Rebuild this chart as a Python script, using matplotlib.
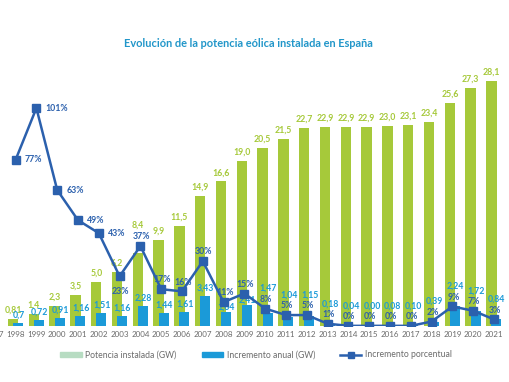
import numpy as np
import matplotlib.pyplot as plt
from matplotlib.lines import Line2D
from matplotlib.patches import Patch

plt.rcParams['font.family'] = ['Lato', 'DejaVu Sans']

years = np.arange(1998, 2022)
potencia = [0.81, 1.4, 2.3, 3.5, 5.0, 6.2, 8.4, 9.9, 11.5, 14.9, 16.6, 19.0,
            20.5, 21.5, 22.7, 22.9, 22.9, 22.9, 23.0, 23.1, 23.4, 25.6, 27.3, 28.1]
potencia_lbl = ['0,81', '1,4', '2,3', '3,5', '5,0', '6,2', '8,4', '9,9', '11,5',
                '14,9', '16,6', '19,0', '20,5', '21,5', '22,7', '22,9', '22,9',
                '22,9', '23,0', '23,1', '23,4', '25,6', '27,3', '28,1']
incremento = [0.3, 0.72, 0.91, 1.16, 1.51, 1.16, 2.28, 1.44, 1.61, 3.43, 1.64, 2.41,
              1.47, 1.04, 1.15, 0.18, 0.04, 0.00, 0.08, 0.10, 0.39, 2.24, 1.72, 0.84]
incremento_lbl = ['0,7', '0,72', '0,91', '1,16', '1,51', '1,16', '2,28', '1,44',
                  '1,61', '3,43', '1,64', '2,41', '1,47', '1,04', '1,15', '0,18',
                  '0,04', '0,00', '0,08', '0,10', '0,39', '2,24', '1,72', '0,84']
porcentaje = [77, 101, 63, 49, 43, 23, 37, 17, 16, 30, 11, 15, 8, 5, 5, 1,
              0, 0, 0, 0, 2, 9, 7, 3]

green = '#a6c93a'
blue = '#1b9ad8'
dblue = '#2b60ad'
grey = '#6b6b6b'

fig = plt.figure(figsize=(5.1, 3.82), dpi=100)
ax = fig.add_axes([-0.0306, 0.147, 1.0196, 0.683])
ax2 = ax.twinx()

ax.bar(years - 0.12, potencia, width=0.5, color=green, zorder=2)
ax.bar(years + 0.12, incremento, width=0.48, color=blue, zorder=3)
for x, v, t in zip(years, potencia, potencia_lbl):
    off = 2.7 if x == 2004 else 0.5
    ax.text(x - 0.12, v + off, t, ha='center', va='bottom', fontsize=6.3,
            color=green, fontweight='bold')

# percent -> GW units of the left axis
k = 30 / 121
for x, v, p, t in zip(years, incremento, porcentaje, incremento_lbl):
    if x <= 2007:
        y = v + 0.9
    elif x <= 2009:
        y = v + 0.55
    else:
        y = max(v + 0.9, p * k + 2.3)
    ax.text(x + 0.14, y, t, ha='center', va='center', fontsize=6.3,
            color=blue, fontweight='bold', zorder=4)

ax2.plot(years, porcentaje, color=dblue, lw=1.8, marker='s', ms=5.5, zorder=5)
for x, p in zip(years, porcentaje):
    if x <= 2002:
        ax2.text(x + 0.45, p, '%d%%' % p, ha='left', va='center', fontsize=6.3,
                 color=dblue, fontweight='bold')
    elif x == 2003:
        ax2.text(x + 0.05, p - 7, '%d%%' % p, ha='center', va='center', fontsize=6.3,
                 color=dblue, fontweight='bold')
    else:
        ax2.text(x + 0.05, p + 4.3, '%d%%' % p, ha='center', va='center', fontsize=6.3,
                 color=dblue, fontweight='bold')

ax.set_xlim(1996.5, 2021.5)
ax.set_ylim(0, 30)
ax2.set_ylim(0, 121)
ax.set_xticks(np.arange(1997, 2022))
ax.set_xticklabels([str(y) for y in range(1997, 2022)], fontsize=5.8, color=grey)
ax.tick_params(axis='x', length=0, pad=4)
ax.set_yticks([])
ax2.set_yticks([])
for a in (ax, ax2):
    for s in a.spines.values():
        s.set_visible(False)

fig.text(0.487, 0.885, 'Evolución de la potencia eólica instalada en España',
         ha='center', va='center', fontsize=7.9, color='#2196c9', fontweight='bold')

handles = [Patch(color='#b7dcc2'), Patch(color=blue),
           Line2D([], [], color=dblue, lw=1.8, marker='s', ms=4)]
labels = ['Potencia instalada (GW)', 'Incremento anual (GW)', 'Incremento porcentual']
fig.legend(handles, labels, loc='center', bbox_to_anchor=(0.502, 0.071), ncol=3,
           frameon=False, fontsize=6.2, labelcolor=grey, handlelength=2.5,
           handleheight=0.5, handletextpad=0.4, columnspacing=2.9)

fig.savefig('out.png', dpi=100)
